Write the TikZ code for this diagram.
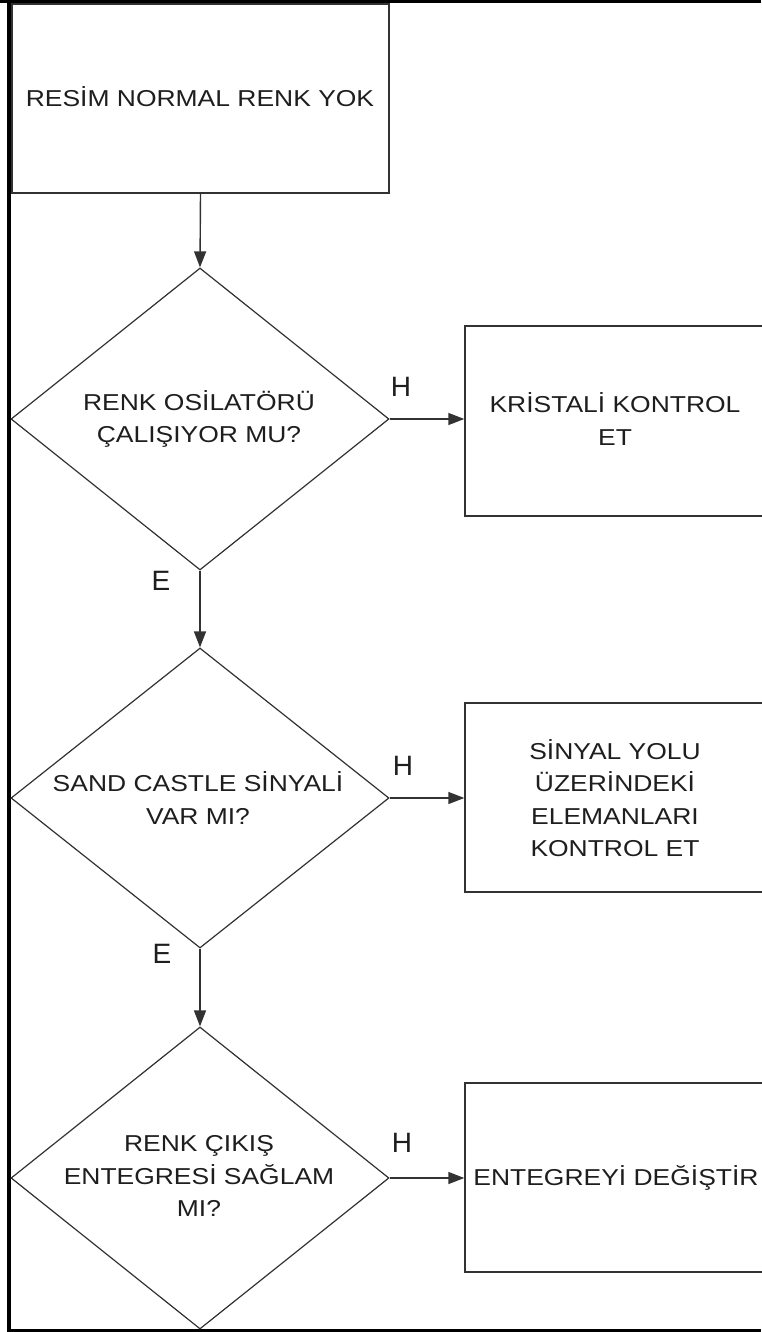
\documentclass[tikz,border=0pt]{standalone}
\usepackage{fontspec}
\setmainfont[FakeStretch=1.15]{Liberation Sans}
\newfontfamily\lblfont{Liberation Sans}
\usetikzlibrary{shapes.geometric,arrows.meta}
\definecolor{lineclr}{RGB}{50,50,50}
\definecolor{txtclr}{RGB}{30,30,30}
\begin{document}
\begin{tikzpicture}[x=1pt,y=-1pt,
  stepbox/.style={draw=lineclr,line width=1.4pt,rectangle,inner sep=0pt,minimum width=300pt,minimum height=189pt},
  dia/.style={draw=lineclr,line width=1.2pt,diamond,inner sep=0pt,minimum width=378pt,minimum height=302pt},
  txt/.style={text=txtclr,align=center,inner sep=0pt,font=\fontsize{23}{32.5}\selectfont},
  lbl/.style={text=txtclr,inner sep=0pt,font=\lblfont\fontsize{28}{28}\selectfont},
  arr/.style={draw=lineclr,line width=1.4pt,-{Triangle[length=16pt,width=12pt]}}
]
\useasboundingbox (0,0) rectangle (761,1332);
\fill[white] (0,0) rectangle (761,1332);
% frame
\fill[black] (0,0) rectangle (761,3.5);
\draw[black,line width=3.6pt] (9.2,0) -- (9.2,1330.5) -- (761,1330.5);

% top box
\node[stepbox,minimum width=377pt,minimum height=189pt] (start) at (200.5,98.5) {};
\node[txt] (starttxt) at (200,97) {RESİM NORMAL RENK YOK};

% diamonds
\node[dia] (d1) at (200,419) {};
\node[txt] (d1txt) at (199,419) {RENK OSİLATÖRÜ\\ÇALIŞIYOR MU?};
\node[dia,minimum height=300pt] (d2) at (200,798) {};
\node[txt] (d2txt) at (198,798) {SAND CASTLE SİNYALİ\\VAR MI?};
\node[dia] (d3) at (200,1178) {};
\node[txt] (d3txt) at (199,1176) {RENK ÇIKIŞ\\ENTEGRESİ SAĞLAM\\MI?};

% right boxes
\node[stepbox,minimum height=190pt] (b1) at (615,421) {};
\node[txt] (b1txt) at (615,419) {KRİSTALİ KONTROL\\ET};
\node[stepbox] (b2) at (615,797.5) {};
\node[txt] (b2txt) at (615,798) {SİNYAL YOLU\\ÜZERİNDEKİ\\ELEMANLARI\\KONTROL ET};
\node[stepbox] (b3) at (615,1177.5) {};
\node[txt] (b3txt) at (616,1178) {ENTEGREYİ DEĞİŞTİR};

% connectors
\draw[arr] (start.south) -- (d1.north);
\draw[arr] (d1.south) -- (d2.north);
\draw[arr] (d2.south) -- (d3.north);
\draw[arr] (d1.east) -- (b1.west |- d1.east);
\draw[arr] (d2.east) -- (b2.west |- d2.east);
\draw[arr] (d3.east) -- (b3.west |- d3.east);

% labels
\node[lbl] (h1) at (401,387) {H};
\node[lbl] (h2) at (403,766) {H};
\node[lbl] (h3) at (402,1143) {H};
\node[lbl] (e1) at (161,581) {E};
\node[lbl] (e2) at (162,954) {E};
\end{tikzpicture}
\end{document}
